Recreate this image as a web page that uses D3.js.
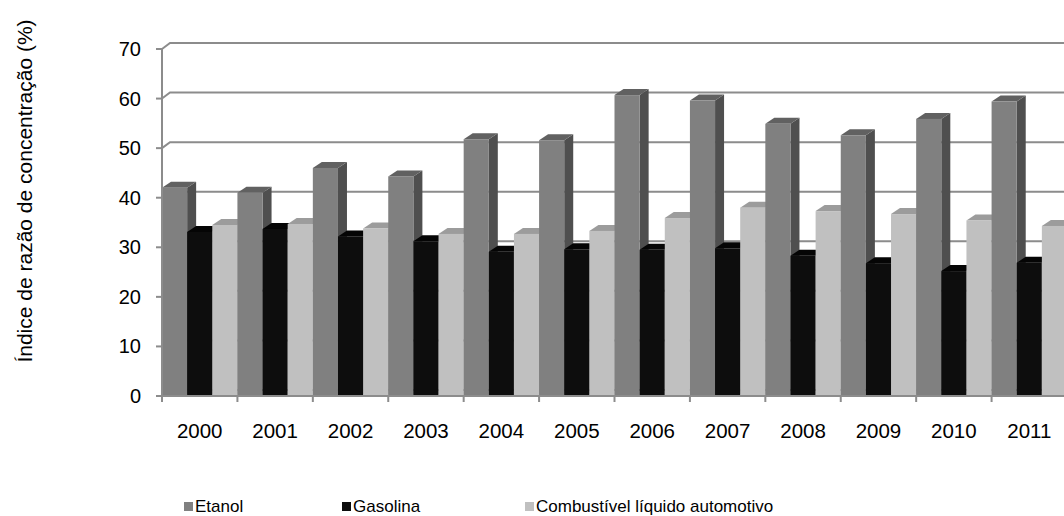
<!DOCTYPE html>
<html>
<head>
<meta charset="utf-8">
<script src="https://cdn.jsdelivr.net/npm/d3@7"></script>
<style>
  html, body { margin: 0; padding: 0; background: #fff; }
  svg { display: block; font-family: "Liberation Sans", Arial, sans-serif; }
</style>
</head>
<body>
<svg id="chart" width="1064" height="516"></svg>
<script>
// Categories and series values
const years = ["2000","2001","2002","2003","2004","2005","2006","2007","2008","2009","2010","2011"];
const seriesNames = ["Etanol", "Gasolina", "Combustível líquido automotivo"];
const etanol      = [42.0, 41.0, 46.0, 44.3, 51.8, 51.6, 60.7, 59.6, 54.9, 52.6, 55.9, 59.4];
const gasolina    = [33.1, 33.7, 32.2, 31.2, 29.1, 29.6, 29.5, 29.8, 28.3, 26.8, 25.2, 26.9];
const combustivel = [34.5, 34.7, 33.8, 32.7, 32.7, 33.3, 35.9, 38.0, 37.3, 36.7, 35.4, 34.3];
const yTicks = [0, 10, 20, 30, 40, 50, 60, 70];
const yTitle = "Índice de razão de concentração (%)";

// Face shading per series: front, top, side
const faceColors = [
  { front: "#808080", top: "#616161", side: "#4f4f4f" },
  { front: "#0d0d0d", top: "#050505", side: "#000000" },
  { front: "#c0c0c0", top: "#9c9c9c", side: "#8c8c8c" }
];
const gridColor = "#8c8c8c";

const svg = d3.select("#chart");
const W = 1064, H = 516;
svg.append("rect").attr("width", W).attr("height", H).attr("fill", "#fff");

const x0 = 162, x1 = 1067;
const wallDX = 8, wallDY = -6;   // depth offset of the back wall
const barDX = 9, barDY = -6;     // depth offset of each column

const x = d3.scaleBand().domain(years).range([x0, x1]).paddingInner(0).paddingOuter(0);
const xs = d3.scaleBand().domain(seriesNames).range([0, x.bandwidth()]).padding(0);
const y = d3.scaleLinear().domain([0, 70]).range([396, 49]);

const values = [etanol, gasolina, combustivel];

// Back wall gridlines and side wall diagonals
const grid = svg.append("g").attr("stroke", gridColor).attr("stroke-width", 2).attr("fill", "none");
yTicks.forEach(v => {
  grid.append("path")
    .attr("d", `M${x0},${y(v)} L${x0 + wallDX},${y(v) + wallDY} L${W},${y(v) + wallDY}`);
});

// Columns, left to right so each covers the previous one's side face
const bars = svg.append("g");
years.forEach((yr, i) => {
  seriesNames.forEach((s, k) => {
    const v = values[k][i];
    const bx = x(yr) + xs(s);
    const bw = xs.bandwidth();
    const yt = y(v), yb = y(0) - 1;
    const c = faceColors[k];
    bars.append("polygon")
      .attr("points", [[bx + bw, yt], [bx + bw + barDX, yt + barDY], [bx + bw + barDX, yb + barDY], [bx + bw, yb]].join(" "))
      .attr("fill", c.side);
    bars.append("polygon")
      .attr("points", [[bx, yt], [bx + barDX, yt + barDY], [bx + bw + barDX, yt + barDY], [bx + bw, yt]].join(" "))
      .attr("fill", c.top);
    bars.append("rect")
      .attr("x", bx).attr("y", yt).attr("width", bw).attr("height", yb - yt)
      .attr("fill", c.front);
  });
});

// Value axis
const yAxis = svg.append("g");
yAxis.append("line")
  .attr("x1", x0).attr("x2", x0).attr("y1", y(0) + 1).attr("y2", y(70) - 1)
  .attr("stroke", gridColor).attr("stroke-width", 2);
yTicks.forEach(v => {
  yAxis.append("line")
    .attr("x1", x0 - 6).attr("x2", x0).attr("y1", y(v)).attr("y2", y(v))
    .attr("stroke", gridColor).attr("stroke-width", 2);
  yAxis.append("text")
    .attr("x", 141).attr("y", y(v) + 7)
    .attr("text-anchor", "end").attr("font-size", 20).attr("fill", "#000")
    .text(v);
});

// Category axis
const xAxis = svg.append("g");
xAxis.append("line")
  .attr("x1", x0 - 1).attr("x2", W).attr("y1", y(0)).attr("y2", y(0))
  .attr("stroke", gridColor).attr("stroke-width", 2);
years.concat([null]).forEach(yr => {
  const tx = yr === null ? x1 : x(yr);
  xAxis.append("line")
    .attr("x1", tx).attr("x2", tx).attr("y1", y(0)).attr("y2", y(0) + 6)
    .attr("stroke", gridColor).attr("stroke-width", 2);
});
years.forEach(yr => {
  xAxis.append("text")
    .attr("x", x(yr) + x.bandwidth() / 2).attr("y", 438)
    .attr("text-anchor", "middle").attr("font-size", 20.5).attr("fill", "#000")
    .text(yr);
});

// Axis title
svg.append("text")
  .attr("transform", "translate(32,191) rotate(-90)")
  .attr("text-anchor", "middle").attr("font-size", 21).attr("fill", "#000")
  .text(yTitle);

// Legend
const legendX = [184, 342, 525];
const legend = svg.append("g");
seriesNames.forEach((s, k) => {
  legend.append("rect")
    .attr("x", legendX[k]).attr("y", 502).attr("width", 9).attr("height", 9)
    .attr("fill", faceColors[k].front);
  legend.append("text")
    .attr("x", legendX[k] + 11).attr("y", 512)
    .attr("font-size", 17).attr("fill", "#000")
    .text(s);
});
</script>
</body>
</html>
